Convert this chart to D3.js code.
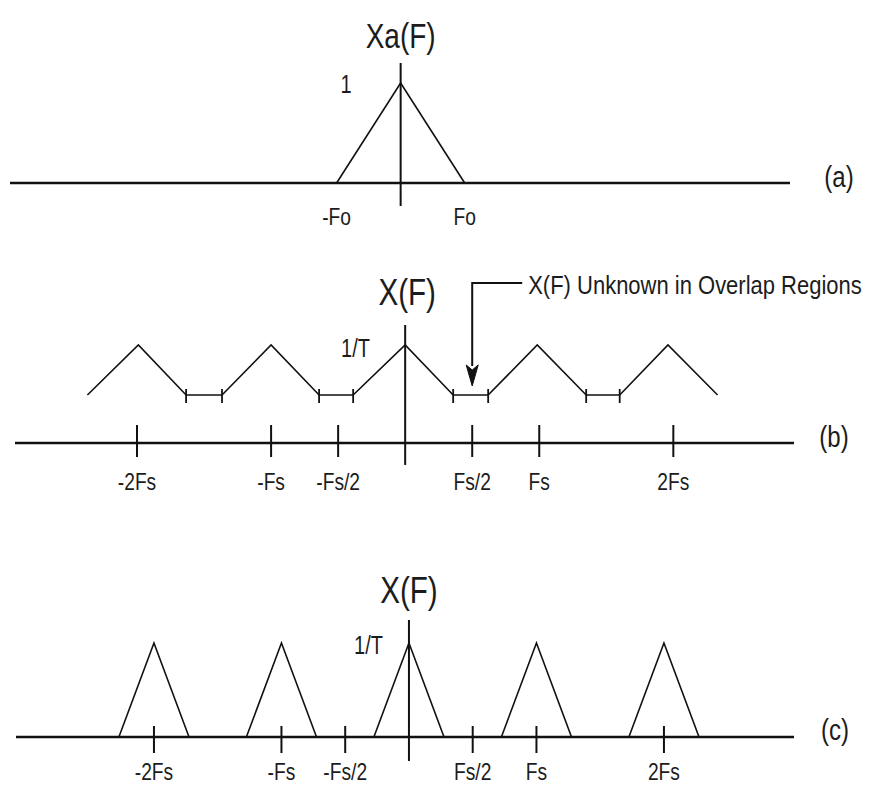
<!DOCTYPE html>
<html><head><meta charset="utf-8">
<script src="https://cdn.jsdelivr.net/npm/d3@7"></script>
<style>
html,body{margin:0;padding:0;background:#fff}
svg{display:block}
text{font-family:"Liberation Sans",Arial,"Noto Sans",sans-serif;fill:#1c1c1c}
</style>
</head><body>
<svg id="chart" width="879" height="786"></svg>
<script>
// ---------- data (frequency in Fo units for (a), Fs units for (b),(c); amplitude normalised) ----------
const aSpectrum = [[-1, 0], [0, 1], [1, 0]];
const aTickValues = [-1, 1];
const aTickLabels = ["-Fo", "Fo"];

const bSpectrum = [[-2.37, 0.49], [-1.99, 1], [-1.634, 0.49], [-1.366, 0.49], [-1.0, 1], [-0.642, 0.49],
                   [-0.388, 0.49], [0, 1], [0.358, 0.49], [0.619, 0.49], [0.985, 1], [1.35, 0.49],
                   [1.60, 0.49], [1.96, 1], [2.33, 0.49]];
const bOverlapBounds = [-1.634, -1.366, -0.642, -0.388, 0.358, 0.619, 1.35, 1.60];
const bOverlapLevel = 0.49;
const bTickValues = [-2, -1, -0.5, 0.5, 1, 2];
const bTickLabels = ["-2Fs", "-Fs", "-Fs/2", "Fs/2", "Fs", "2Fs"];

const cPeaks = [-2, -1, 0, 1, 2];
const cHalfWidth = 0.275;
const cTickValues = [-2, -1, -0.5, 0.5, 1, 2];
const cTickLabels = ["-2Fs", "-Fs", "-Fs/2", "Fs/2", "Fs", "2Fs"];

// ---------- drawing ----------
const svg = d3.select("#chart");
svg.append("rect").attr("width", 879).attr("height", 786).attr("fill", "#fff");

const xa = d3.scaleLinear().domain([-6.1, 6.08]).range([10, 790]);
const ya = d3.scaleLinear().domain([0, 1]).range([183, 83]);
const xb = d3.scaleLinear().domain([-2.91, 2.90]).range([15, 794]);
const yb = d3.scaleLinear().domain([0, 1]).range([443, 345]);
const xc = d3.scaleLinear().domain([-3.082, 3.020]).range([16, 794]);
const yc = d3.scaleLinear().domain([0, 1]).range([737, 643]);

const INK = "#111";
const SX = 0.8; // condensed lettering

function txt(g, x, y, s, size, anchor = "middle", sx = SX) {
  return g.append("text").attr("transform", `translate(${x},${y}) scale(${sx},1)`)
    .attr("text-anchor", anchor).attr("font-size", size).text(s);
}
function baseAxis(g, x, y, vTop, vBot) {
  const [d0, d1] = x.domain();
  g.append("line").attr("x1", x(d0)).attr("x2", x(d1)).attr("y1", y(0)).attr("y2", y(0))
    .attr("stroke", INK).attr("stroke-width", 2.4);
  g.append("line").attr("x1", x(0)).attr("x2", x(0)).attr("y1", y(vTop)).attr("y2", y(vBot))
    .attr("stroke", INK).attr("stroke-width", 2);
}
function ticks(g, x, y, vals, labels, up, down, labelBase) {
  g.selectAll(null).data(vals).enter().append("line")
    .attr("x1", d => x(d)).attr("x2", d => x(d))
    .attr("y1", y(0) - up).attr("y2", y(0) + down)
    .attr("stroke", INK).attr("stroke-width", 2);
  vals.forEach((d, i) => txt(g, x(d), labelBase, labels[i], 24));
}
const line = (x, y) => d3.line().x(d => x(d[0])).y(d => y(d[1]));

// ----- panel (a)
const ga = svg.append("g");
baseAxis(ga, xa, ya, 1.2, -0.23);
ga.append("path").attr("d", line(xa, ya)(aSpectrum)).attr("fill", "none")
  .attr("stroke", INK).attr("stroke-width", 1.6);
aTickValues.forEach((d, i) => txt(ga, xa(d), 225, aTickLabels[i], 24));
txt(ga, xa(0), 48, "Xa(F)", 35);
txt(ga, 346, 93, "1", 25);
txt(ga, 839, 187, "(a)", 30);

// ----- panel (b)
const gb = svg.append("g");
baseAxis(gb, xb, yb, 1.204, -0.224);
ticks(gb, xb, yb, bTickValues, bTickLabels, 18, 14, 490);
gb.append("path").attr("d", line(xb, yb)(bSpectrum)).attr("fill", "none")
  .attr("stroke", INK).attr("stroke-width", 1.6);
gb.selectAll(null).data(bOverlapBounds).enter().append("line")
  .attr("x1", d => xb(d)).attr("x2", d => xb(d))
  .attr("y1", yb(bOverlapLevel) - 6).attr("y2", yb(bOverlapLevel) + 8)
  .attr("stroke", INK).attr("stroke-width", 1.8);
txt(gb, xb(0) + 2, 305, "X(F)", 37);
txt(gb, 370, 357, "1/T", 25, "end");
txt(gb, 834, 447, "(b)", 30);

// annotation with arrow to the Fs/2 overlap region
const ax = xb(0.5);
const tipY = yb(bOverlapLevel) - 9;
gb.append("path").attr("d", `M${ax + 50},283 H${ax} V${tipY - 20}`)
  .attr("fill", "none").attr("stroke", INK).attr("stroke-width", 2);
gb.append("path").attr("d", `M${ax - 6},${tipY - 21} L${ax},${tipY - 16} L${ax + 6},${tipY - 21} L${ax},${tipY} Z`)
  .attr("fill", INK).attr("stroke", INK).attr("stroke-width", 1);
txt(gb, ax + 56, 294, "X(F) Unknown in Overlap Regions", 25, "start", 0.88);

// ----- panel (c)
const gc = svg.append("g");
baseAxis(gc, xc, yc, 1.245, -0.255);
ticks(gc, xc, yc, cTickValues, cTickLabels, 11, 16, 780);
gc.selectAll(null).data(cPeaks).enter().append("path")
  .attr("d", p => line(xc, yc)([[p - cHalfWidth, 0], [p, 1], [p + cHalfWidth, 0]]))
  .attr("fill", "none").attr("stroke", INK).attr("stroke-width", 1.6);
txt(gc, xc(0), 603, "X(F)", 37);
txt(gc, 383, 654, "1/T", 25, "end");
txt(gc, 835, 740, "(c)", 30);
</script>
</body></html>
